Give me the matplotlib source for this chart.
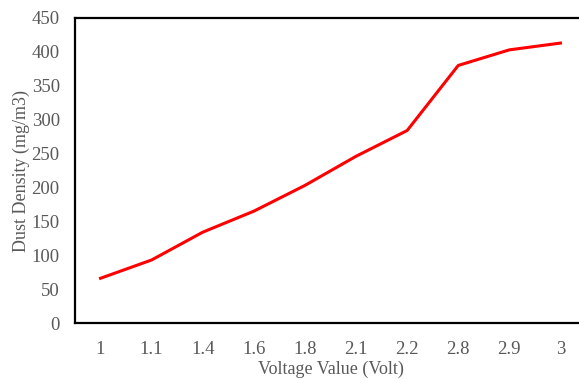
import matplotlib.pyplot as plt

plt.rcParams['font.family'] = ['Liberation Serif', 'DejaVu Serif']

voltage_labels = ["1", "1.1", "1.4", "1.6", "1.8", "2.1", "2.2", "2.8", "2.9", "3"]
dust_density = [66, 93, 134, 165, 203, 246, 284, 380, 403, 413]
y_ticks = [0, 50, 100, 150, 200, 250, 300, 350, 400, 450]

fig = plt.figure(figsize=(5.79, 3.79), dpi=100)
# right spine sits just past the image edge, as in the reference
ax = fig.add_axes([75 / 579, 1 - 323 / 379, 511 / 579, 305 / 379])

x = range(len(voltage_labels))
ax.plot(x, dust_density, color='#ff0000', linewidth=2.2)

ax.set_xlim(-0.5, len(voltage_labels) - 0.5)
ax.set_ylim(0, 450)
ax.set_xticks(list(x))
ax.set_xticklabels(voltage_labels)
ax.set_yticks(y_ticks)
ax.tick_params(length=0, labelsize=13.5, labelcolor='#595959')
ax.tick_params(axis='y', pad=11)
ax.tick_params(axis='x', pad=13)

for s in ax.spines.values():
    s.set_linewidth(1.6)
    s.set_color('black')

ax.set_xlabel('Voltage Value (Volt)', fontsize=13, color='#595959', labelpad=2)
ax.set_ylabel('Dust Density (mg/m3)', fontsize=13, color='#595959', labelpad=1)

fig.savefig('out.png', dpi=100)
